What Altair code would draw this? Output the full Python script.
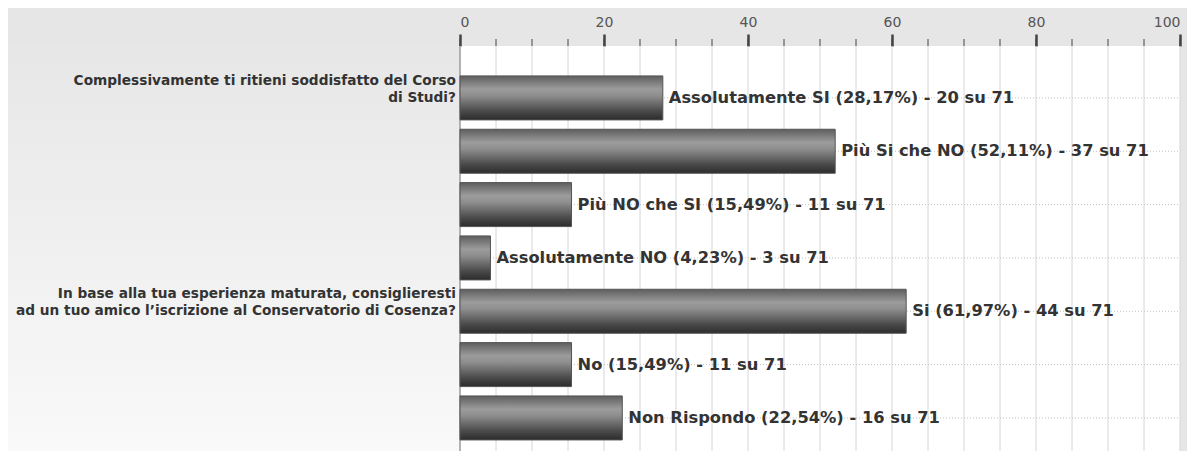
import altair as alt
import pandas as pd

# ---- data ----
answers = ["Assolutamente SI", "Più Si che NO", "Più NO che SI", "Assolutamente NO",
           "Si", "No", "Non Rispondo"]
percents = [28.17, 52.11, 15.49, 4.23, 61.97, 15.49, 22.54]
counts = [20, 37, 11, 3, 44, 11, 16]
total = 71

questions = [
    "Complessivamente ti ritieni soddisfatto del Corso\ndi Studi?",
    "In base alla tua esperienza maturata, consiglieresti\nad un tuo amico l’iscrizione al Conservatorio di Cosenza?",
]
question_rows = ["Assolutamente SI", "Si"]

major_ticks = [0, 20, 40, 60, 80, 100]
minor_ticks = [0, 5, 10, 15, 20, 25, 30, 35, 40, 45, 50, 55, 60, 65, 70, 75, 80, 85, 90, 95, 100]

# ---- tables ----
bars = pd.DataFrame({
    "risposta": answers,
    "pct": percents,
    "label": [f"{a} ({str(p).replace('.', ',')}%) - {c} su {total}"
              for a, p, c in zip(answers, percents, counts)],
})
qdf = pd.DataFrame({"risposta": question_rows, "q": questions})
grid = pd.DataFrame({"pct": minor_ticks})
one = pd.DataFrame({"a": [0]})

W, H = 720, 405
FONT = "DejaVu Sans"

xaxis = alt.Axis(orient="top", values=major_ticks, grid=False, domain=False,
                 tickSize=12, tickWidth=2.5, tickColor="#444444",
                 labelFontSize=14, labelColor="#555555", labelFont=FONT,
                 labelPadding=5, title=None)
xscale = alt.Scale(domain=[0, 100], nice=False, zero=True)
yscale = alt.Scale(domain=answers, paddingInner=0.175, paddingOuter=0.384, align=0.73)


def X(**kw):
    return alt.X("pct:Q", scale=xscale, axis=xaxis, **kw)


Y = alt.Y("risposta:N", scale=yscale, axis=None, sort=answers)

left_bg = alt.Chart(one).mark_rect(
    color=alt.Gradient(gradient="linear", x1=0, x2=0, y1=0, y2=1,
                       stops=[alt.GradientStop(offset=0, color="#e7e7e7"),
                              alt.GradientStop(offset=1, color="#f9f9f9")])
).encode(x=alt.value(-452), x2=alt.value(0), y=alt.value(0), y2=alt.value(H))

gridlines = alt.Chart(grid).mark_rule(color="#d6d6d6", strokeWidth=1).encode(
    x=X(), y=alt.value(0), y2=alt.value(H))

zero_line = alt.Chart(one).mark_rule(color="#a0a0a0", strokeWidth=1.5).encode(
    x=alt.value(0), y=alt.value(0), y2=alt.value(H))

minor = alt.Chart(grid).mark_rule(color="#444444", strokeWidth=1).encode(
    x=X(), y=alt.value(-7), y2=alt.value(0))

rowlines = alt.Chart(bars).mark_rule(color="#c0c0c0", strokeDash=[1, 2]).encode(
    y=Y, x=alt.value(0), x2=alt.value(W))

bar_fill = alt.Gradient(
    gradient="linear", x1=0, x2=0, y1=0, y2=1,
    stops=[alt.GradientStop(offset=0, color="#5e5e5e"),
           alt.GradientStop(offset=0.3, color="#9c9c9c"),
           alt.GradientStop(offset=0.45, color="#8e8e8e"),
           alt.GradientStop(offset=0.8, color="#4a4a4a"),
           alt.GradientStop(offset=1, color="#2c2c2c")])

barlayer = alt.Chart(bars).mark_bar(color=bar_fill, stroke="#555555", strokeWidth=1).encode(
    x=X(), y=Y)

labels = alt.Chart(bars).mark_text(
    align="left", baseline="middle", dx=6, font=FONT, fontSize=16.3,
    fontWeight="bold", color="#333333"
).encode(x=X(), y=Y, text="label:N")

qlabels = alt.Chart(qdf).mark_text(
    align="right", baseline="top", dy=-24, font=FONT, fontSize=13.7,
    fontWeight="bold", color="#333333", lineBreak="\n", lineHeight=17
).encode(x=alt.value(-4), y=Y, text="q:N")

chart = alt.layer(
    left_bg, gridlines, zero_line, minor, rowlines, barlayer, labels, qlabels
).properties(
    width=W, height=H,
    autosize=alt.AutoSizeParams(type="none"),
    padding={"left": 452, "top": 38, "right": 7, "bottom": 0},
    background="#e6e6e6",
).configure_view(fill="#ffffff", strokeWidth=0)

chart.save("out.html", embed_options={"renderer": "svg", "actions": False})
